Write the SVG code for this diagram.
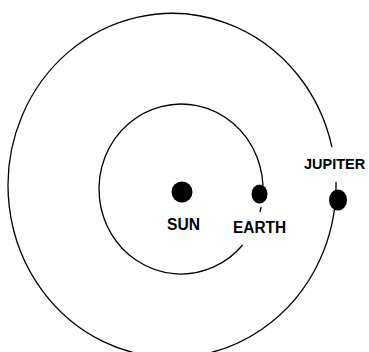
<svg xmlns="http://www.w3.org/2000/svg" width="369" height="352" viewBox="0 0 369 352">
<style>
.orbit{fill:none;stroke:#000;stroke-width:1.3}
.body{fill:#000}
.lbl{font-family:"Liberation Sans",Arial,sans-serif;font-weight:bold;font-size:16px;fill:#000}
</style>
<rect width="369" height="352" fill="#fff"/>
<g id="orbits">
<path class="orbit" d="M262.86,194 A82,85 0 1 0 242.7,245"/>
<path class="orbit" d="M261.14,207 A82,85 0 0 1 259.94,212"/>
<path class="orbit" d="M336,182 A164,172 0 1 1 331.9,147"/>
</g>
<g id="sun">
<circle class="body" cx="182" cy="192" r="10.5"/>
<text class="lbl" x="167" y="230" textLength="33" lengthAdjust="spacingAndGlyphs">SUN</text>
</g>
<g id="earth">
<ellipse class="body" cx="259.5" cy="194" rx="8" ry="9.5"/>
<text class="lbl" x="233" y="233" textLength="53" lengthAdjust="spacingAndGlyphs">EARTH</text>
</g>
<g id="jupiter">
<ellipse class="body" cx="338" cy="200" rx="9" ry="10.5"/>
<text class="lbl" x="304" y="169" style="font-size:14.5px">JUPITER</text>
</g>
</svg>
